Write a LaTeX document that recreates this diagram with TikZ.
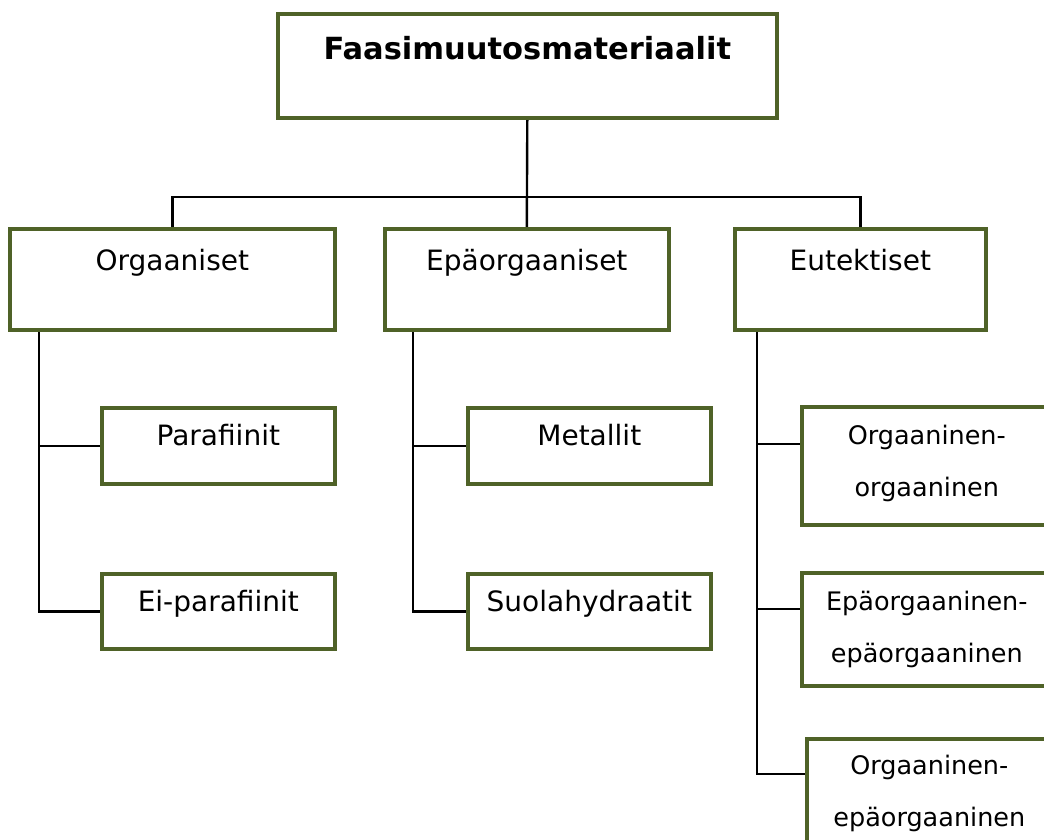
\documentclass[tikz,border=0pt]{standalone}
\usepackage{fontspec}
\setmainfont{DejaVu Sans}
\usetikzlibrary{calc,backgrounds}
\definecolor{boxgreen}{HTML}{4F6228}
\begin{document}
\begin{tikzpicture}[x=1pt,y=-1pt,
  box/.style={draw=boxgreen, line width=3.6pt, inner sep=0pt, anchor=north west},
  lbl/.style={font=\fontsize{28}{52}\selectfont, anchor=base, inner sep=0pt, align=center},
  lbls/.style={font=\fontsize{25.5}{52}\selectfont, anchor=base, inner sep=0pt, align=center},
  conn/.style={line width=2.4pt, draw=black}]
\useasboundingbox (0,0) rectangle (1044,839);
\clip (0,0) rectangle (1044,839);
% boxes
\node[box, minimum width=499pt, minimum height=104pt] (title) at (276,12) {};
\node[box, minimum width=325pt, minimum height=101pt] (org) at (8,227) {};
\node[box, minimum width=284pt, minimum height=101pt] (epa) at (383,227) {};
\node[box, minimum width=251pt, minimum height=101pt] (eut) at (733,227) {};
\node[box, minimum width=233pt, minimum height=76pt] (para) at (100,406) {};
\node[box, minimum width=233pt, minimum height=75pt] (eipara) at (100,572) {};
\node[box, minimum width=243pt, minimum height=76pt] (met) at (466,406) {};
\node[box, minimum width=243pt, minimum height=75pt] (suola) at (466,572) {};
\node[box, minimum width=250pt, minimum height=118pt] (oo) at (800,405) {};
\node[box, minimum width=250pt, minimum height=113pt] (ee) at (800,571) {};
\node[box, minimum width=245pt, minimum height=130pt] (oe) at (805,737) {};
% texts
\node[lbl, font=\bfseries\fontsize{30.5}{36}\selectfont] (titleT) at ($(title.north)+(0,47)$) {Faasimuutosmateriaalit};
\node[lbl] (orgT) at ($(org.north)+(0,43)$) {Orgaaniset};
\node[lbl] (epaT) at ($(epa.north)+(0,43)$) {Epäorgaaniset};
\node[lbl] (eutT) at ($(eut.north)+(0,43)$) {Eutektiset};
\node[lbl] (paraT) at ($(para.north)+(0,39)$) {Parafiinit};
\node[lbl] (eiparaT) at ($(eipara.north)+(0,39)$) {Ei-parafiinit};
\node[lbl] (metT) at ($(met.north)+(0,39)$) {Metallit};
\node[lbl] (suolaT) at ($(suola.north)+(0,39)$) {Suolahydraatit};
\node[lbls] (ooT) at ($(oo.north)+(0,91)$) {Orgaaninen-\\orgaaninen};
\node[lbls] (eeT) at ($(ee.north)+(0,91)$) {Epäorgaaninen-\\epäorgaaninen};
\node[lbls] (oeT) at ($(oe.north)+(0,89)$) {Orgaaninen-\\epäorgaaninen};
% connectors
\coordinate (orgK) at ($(org.south west)+(31,0)$);
\coordinate (epaK) at ($(epa.south west)+(30,0)$);
\coordinate (eutK) at ($(eut.south west)+(24,0)$);
\coordinate (ooK) at ($(oo.north west)+(0,39)$);
\coordinate (eeK) at ($(ee.north west)+(0,38)$);
\coordinate (oeK) at ($(oe.north west)+(0,37)$);
\begin{pgfonlayer}{background}
\draw[conn] (title.south) -- (epa.north);
\draw[conn] (org.north) -- ++(0,-30) -| (eut.north);
\draw[conn] (orgK) |- (para.west);
\draw[conn] (orgK) |- (eipara.west);
\draw[conn] (epaK) |- (met.west);
\draw[conn] (epaK) |- (suola.west);
\draw[conn] (eutK) |- (ooK);
\draw[conn] (eutK) |- (eeK);
\draw[conn] (eutK) |- (oeK);
\end{pgfonlayer}
\end{tikzpicture}
\end{document}
